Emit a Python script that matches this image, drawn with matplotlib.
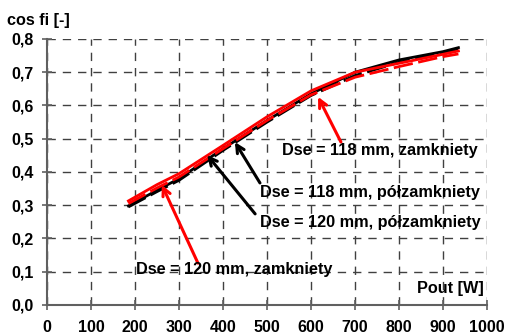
import matplotlib.pyplot as plt
from matplotlib.ticker import FuncFormatter

plt.rcParams['font.family'] = ['Liberation Sans', 'DejaVu Sans']
plt.rcParams['font.weight'] = 'bold'

# Pout [W]
pout = [185, 250, 300, 400, 500, 600, 700, 800, 900, 935]

# cos fi for the four variants
cos_120_zam = [0.313, 0.362, 0.395, 0.480, 0.566, 0.644, 0.700, 0.727, 0.754, 0.764]
cos_118_zam = [0.305, 0.352, 0.385, 0.470, 0.555, 0.632, 0.685, 0.717, 0.747, 0.755]
cos_120_pol = [0.298, 0.345, 0.380, 0.470, 0.555, 0.635, 0.700, 0.737, 0.762, 0.774]
cos_118_pol = [0.295, 0.341, 0.375, 0.465, 0.550, 0.630, 0.690, 0.730, 0.757, 0.767]

labels = ['Dse = 118 mm, zamkniety', 'Dse = 118 mm, półzamkniety',
          'Dse = 120 mm, półzamkniety', 'Dse = 120 mm, zamkniety']
label_pos = [(757, 0.466), (734, 0.337), (734, 0.247), (425, 0.108)]
arrow_tips = [(616, 0.626), (427, 0.490), (364, 0.451), (261, 0.361)]
arrow_tails = [(668, 0.490), (484, 0.367), (473, 0.274), (343, 0.126)]
arrow_colors = ['#ff0000', 'black', 'black', '#ff0000']

fig = plt.figure(figsize=(5.06, 3.35), dpi=100)
ax = fig.add_axes([0.0929, 0.0896, 0.8696, 0.794])

dash = (0, (7, 2))
ax.plot(pout, cos_120_pol, color='black', lw=2, zorder=3)
ax.plot(pout, cos_118_pol, color='black', lw=2, ls=dash, zorder=3)
ax.plot(pout, cos_118_zam, color='#ff0000', lw=2, ls=dash, zorder=4)
ax.plot(pout, cos_120_zam, color='#ff0000', lw=2, zorder=4)

ax.set_xlim(0, 1000)
ax.set_ylim(0, 0.8)
ax.set_xticks(range(0, 1001, 100))
ax.set_yticks([i / 10 for i in range(9)])
ax.yaxis.set_major_formatter(FuncFormatter(lambda v, p: f'{v:.1f}'.replace('.', ',')))
ax.tick_params(direction='inout', length=7, width=1.2, color='#606060',
               labelsize=11.5, pad=6)
ax.tick_params(axis='x', pad=7)
ax.grid(True, color='#404040', ls=(0, (6, 5)), lw=1)
for s in ['top', 'right']:
    ax.spines[s].set_visible(False)
for s in ['left', 'bottom']:
    ax.spines[s].set_color('#606060')
    ax.spines[s].set_linewidth(1.5)

for lab, pos, tip, tail, c in zip(labels, label_pos, arrow_tips, arrow_tails, arrow_colors):
    ax.text(pos[0], pos[1], lab, ha='center', va='center', fontsize=11.7, fontweight='bold', zorder=6)
    ax.annotate('', xy=tip, xytext=tail,
                arrowprops=dict(arrowstyle='->', color=c, lw=2.2, shrinkA=0, shrinkB=0,
                                mutation_scale=14), zorder=5)

ax.text(993, 0.051, 'Pout [W]', ha='right', va='center', fontsize=11.7, fontweight='bold')
fig.text(0.014, 0.94, 'cos fi [-]', ha='left', va='center', fontsize=11.7, fontweight='bold')

fig.savefig('out.png', dpi=100)
